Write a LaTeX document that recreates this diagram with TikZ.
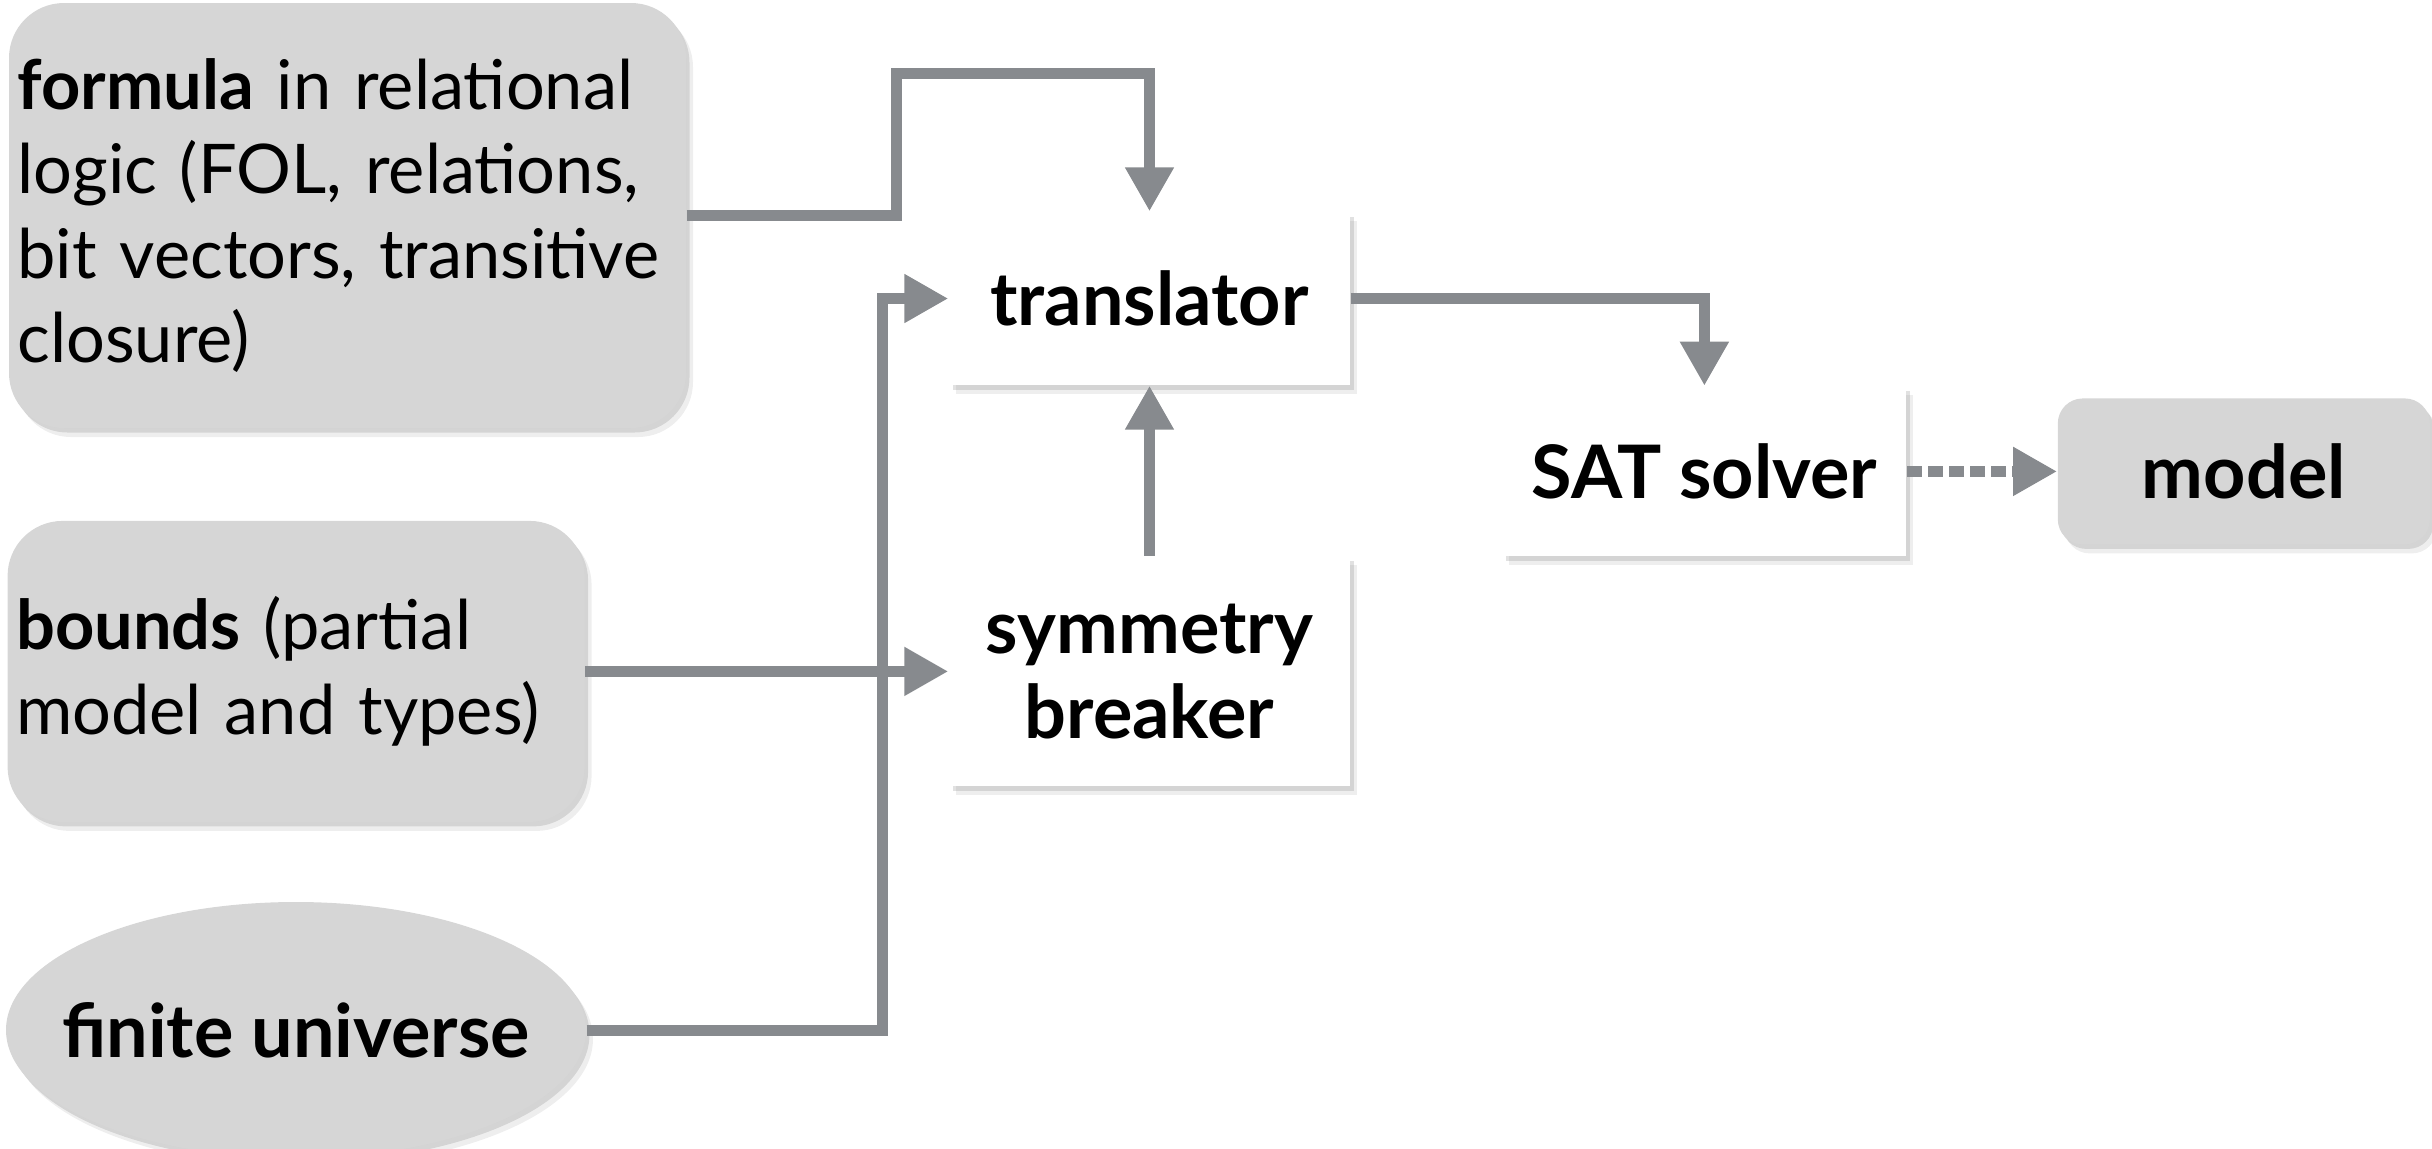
\documentclass[tikz,border=0pt]{standalone}
\usepackage{fontspec}
\setmainfont{Lato}
\usetikzlibrary{arrows.meta, positioning, calc, shadows, shapes.geometric}
\definecolor{kfill}{HTML}{D6D6D6}
\definecolor{kline}{HTML}{878A8E}
\definecolor{kshade}{HTML}{5A5A5A}

\begin{document}
\begin{tikzpicture}[
  font=\fontsize{19.5}{24}\selectfont,
  >={Triangle[length=4.4mm, width=4.6mm]},
  % inputs are grey rounded cards, stages are white cards, all with a soft shadow
  shade/.style   = {drop shadow={shadow xshift=0.7mm, shadow yshift=-0.9mm,
                    fill=kshade, opacity=0.10},
                    drop shadow={shadow xshift=0.35mm, shadow yshift=-0.45mm,
                    fill=kshade, opacity=0.18}},
  heavy/.style   = {font=\fontsize{21}{24}\selectfont\bfseries},
  input/.style   = {fill=kfill, rounded corners=5.5mm, align=left,
                    inner xsep=0.85mm, inner ysep=0pt, shade},
  universe/.style= {fill=kfill, ellipse, heavy, minimum width=58mm,
                    minimum height=25.6mm, inner xsep=-3mm, inner ysep=0pt, shade},
  stage/.style   = {fill=white, heavy, align=center, minimum width=40.1mm,
                    inner sep=0pt, shade},
  flow/.style    = {->, draw=kline, line width=1.1mm},
  hint/.style    = {flow, dash pattern=on 1.5mm off 0.6mm},
]
\useasboundingbox (0,0) rectangle (24.32,-11.48);

% ================================================================ stages ===
\node[stage, minimum height=17.3mm] (translator) at (11.495,-2.985) {translator};
\node[stage, minimum height=23mm, below=17mm of translator] (symbreak)
     {symmetry\\breaker};
\node[stage, minimum width=40.4mm, minimum height=17mm,
      right=15.1mm of translator.south east, anchor=north west] (sat) {SAT solver};
\node[input, heavy, align=center, rounded corners=2.5mm,
      minimum width=37.2mm, minimum height=14.6mm,
      right=15mm of sat] (model) {model};

% ================================================================ inputs ===
\node[input, minimum width=67.7mm, minimum height=42.5mm, text width=66mm]
     (formula) at (3.475,-2.155)
     {\textbf{formula} in relational\\logic (FOL, relations,\\bit vectors, transitive\\closure)};
\node[input, minimum width=57.7mm, minimum height=30.1mm, text width=56mm,
      left=36.3mm of symbreak] (bounds)
     {\textbf{bounds} (partial\\model and types)};
\node[universe] (universe) at (2.96,-10.30) {finite universe};

% ============================================================ connectors ===
\coordinate (fbend) at (8.96,-0.73);
\coordinate (ubend) at (8.82,-10.30);
\draw[flow] (formula.east) -| (fbend) -| (translator.north);
\draw[flow] (universe.east) -- (ubend) |- (translator.west);
\draw[flow] (bounds.east) -- (symbreak.west);
\draw[flow] (symbreak.north) -- (translator.south);
\draw[flow] (translator.east) -| (sat.north);
\draw[hint] (sat.east) -- (model.west);

\end{tikzpicture}
\end{document}
